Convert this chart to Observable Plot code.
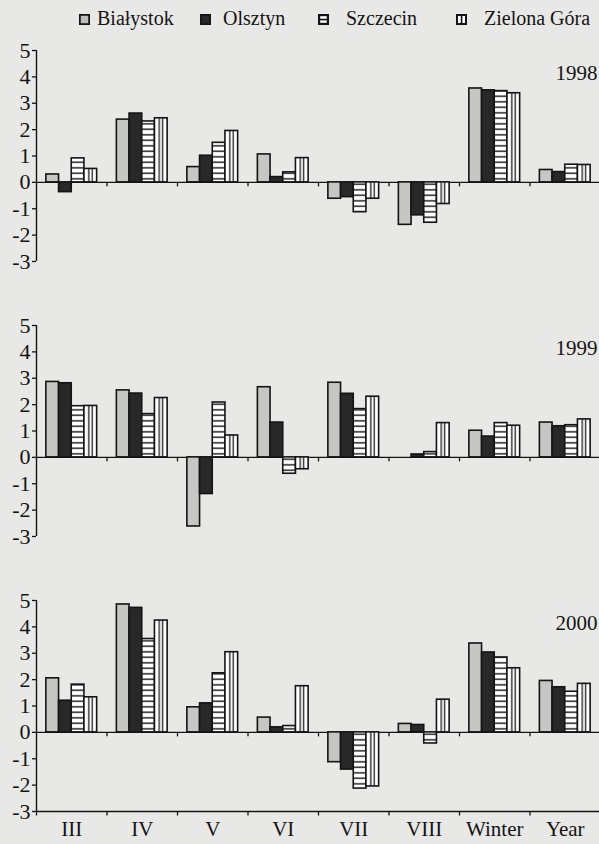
<!DOCTYPE html>
<html>
<head>
<meta charset="utf-8">
<script src="https://cdn.jsdelivr.net/npm/d3@7"></script>
<script src="https://cdn.jsdelivr.net/npm/@observablehq/plot@0.6"></script>
<style>
  body { margin: 0; background: #e8e8e6; }
  #wrap { position: relative; width: 599px; height: 844px; font-family: "Liberation Serif", "Times New Roman", serif; color: #141414; }
  #chart { position: absolute; left: 0; top: 0; }
  .item { position: absolute; top: 6px; font-size: 20px; line-height: 24px; white-space: nowrap; }
  .sw { position: absolute; top: 14px; width: 11px; height: 11px; }
</style>
</head>
<body>
<div id="wrap">
  <div id="chart"></div>
  <div id="legend"></div>
</div>
<script>
// ---- data (anomalies) ----
const categories = ["III", "IV", "V", "VI", "VII", "VIII", "Winter", "Year"];
const cities = ["Białystok", "Olsztyn", "Szczecin", "Zielona Góra"];
const years = [1998, 1999, 2000];
const yTicks = [-3, -2, -1, 0, 1, 2, 3, 4, 5];

const bialystok1998 = [0.30, 2.38, 0.58, 1.06, -0.62, -1.61, 3.56, 0.47];
const olsztyn1998   = [-0.37, 2.61, 1.01, 0.20, -0.56, -1.25, 3.49, 0.39];
const szczecin1998  = [0.91, 2.31, 1.50, 0.38, -1.13, -1.53, 3.46, 0.67];
const zielona1998   = [0.51, 2.43, 1.95, 0.92, -0.62, -0.82, 3.38, 0.66];

const bialystok1999 = [2.86, 2.54, -2.62, 2.66, 2.83, 0.00, 1.01, 1.32];
const olsztyn1999   = [2.81, 2.42, -1.39, 1.32, 2.41, 0.11, 0.79, 1.18];
const szczecin1999  = [1.94, 1.64, 2.08, -0.62, 1.83, 0.20, 1.30, 1.22];
const zielona1999   = [1.95, 2.25, 0.83, -0.45, 2.30, 1.30, 1.20, 1.44];

const bialystok2000 = [2.05, 4.85, 0.95, 0.56, -1.13, 0.32, 3.37, 1.95];
const olsztyn2000   = [1.20, 4.72, 1.10, 0.19, -1.41, 0.28, 3.03, 1.71];
const szczecin2000  = [1.81, 3.54, 2.24, 0.24, -2.13, -0.42, 2.84, 1.54];
const zielona2000   = [1.33, 4.24, 3.04, 1.75, -2.05, 1.24, 2.43, 1.84];

const series = {
  1998: [bialystok1998, olsztyn1998, szczecin1998, zielona1998],
  1999: [bialystok1999, olsztyn1999, szczecin1999, zielona1999],
  2000: [bialystok2000, olsztyn2000, szczecin2000, zielona2000]
};

// ---- table ----
const rows = [];
for (const year of years) {
  series[year].forEach((vals, ci) => {
    vals.forEach((v, k) => rows.push({year, city: cities[ci], ci, cat: categories[k], k, value: v}));
  });
}

// group layout inside each category band (fractions of one band)
const groupPad = 0.14, barW = 0.18;
const bounds = d3.range(1, categories.length + 1);
const bottomBounds = d3.range(0, categories.length + 1).map(b => ({year: 2000, b}));

const fills = ["#c6c6c4", "#282828", "url(#hatchH)", "url(#hatchV)"];
const ink = "#141414";
const serif = "Liberation Serif, Times New Roman, serif";

const plot = Plot.plot({
  width: 599,
  height: 844,
  marginLeft: 36,
  marginRight: 0,
  marginTop: 50,
  marginBottom: 33,
  style: { background: "transparent", fontFamily: serif, color: ink },
  x: { domain: [0, categories.length], range: [36, 600] },
  y: { domain: [-3, 5] },
  fy: { domain: years, paddingInner: 0.233, paddingOuter: 0, axis: null },
  color: { domain: cities, range: fills },
  marks: [
    Plot.ruleY([0], { stroke: ink, strokeWidth: 1.3 }),
    Plot.ruleX([0], { y1: -3, y2: 5, stroke: ink, strokeWidth: 1.4 }),
    Plot.ruleX(bounds, { x: d => d, y1: 0, y2: -0.17, stroke: ink, strokeWidth: 1.3 }),
    Plot.ruleY([{year: 2000}], { y: -3, fy: "year", stroke: ink, strokeWidth: 1.3 }),
    Plot.ruleX(bottomBounds, { x: "b", y1: -3, y2: -3.17, fy: "year", stroke: ink, strokeWidth: 1.3 }),
    Plot.rectY(rows, {
      x1: d => d.k + groupPad + d.ci * barW,
      x2: d => d.k + groupPad + (d.ci + 1) * barW,
      y: "value",
      fy: "year",
      fill: "city",
      stroke: ink,
      strokeWidth: 1.6
    }),
    Plot.axisY({ ticks: yTicks, tickFormat: d => String(d), tickSize: 4, tickPadding: 2, fontSize: 22, label: null, stroke: ink, strokeWidth: 1.3, fill: ink }),
    Plot.axisX({
      ticks: categories.map((c, i) => i + 0.5),
      tickFormat: t => categories[Math.floor(t)],
      tickSize: 0, tickPadding: 10, fontSize: 21, label: null, fill: ink
    }),
    Plot.text(years, { fy: d => d, text: d => String(d), frameAnchor: "top-right", textAnchor: "end", dx: -2, dy: 15, fontSize: 21, fill: ink })
  ]
});

// patterns for the hatched series
const defs = d3.select(plot).insert("defs", ":first-child");
const ph = defs.append("pattern").attr("id", "hatchH").attr("patternUnits", "userSpaceOnUse")
  .attr("width", 6).attr("height", 5.5);
ph.append("rect").attr("width", 6).attr("height", 5.5).attr("fill", "#ffffff");
ph.append("rect").attr("y", 2.1).attr("width", 6).attr("height", 1.4).attr("fill", ink);
const pv = defs.append("pattern").attr("id", "hatchV").attr("patternUnits", "objectBoundingBox")
  .attr("patternContentUnits", "objectBoundingBox").attr("width", 1).attr("height", 1);
pv.append("rect").attr("width", 1).attr("height", 1).attr("fill", "#ffffff");
pv.append("rect").attr("x", 0.33).attr("width", 0.1).attr("height", 1).attr("fill", ink);
pv.append("rect").attr("x", 0.60).attr("width", 0.1).attr("height", 1).attr("fill", ink);

document.getElementById("chart").appendChild(plot);

// legend
const legendPos = [[79, 97], [200, 223], [318, 346], [456, 484]];
const swatch = [
  `<svg class="sw" viewBox="0 0 10 10"><rect x="0.8" y="0.8" width="8.4" height="8.4" fill="#bdbdbb" stroke="${ink}" stroke-width="1.6"/></svg>`,
  `<svg class="sw" viewBox="0 0 10 10"><rect x="0.8" y="0.8" width="8.4" height="8.4" fill="#282828" stroke="${ink}" stroke-width="1.6"/></svg>`,
  `<svg class="sw" viewBox="0 0 10 10"><rect x="1" y="1" width="8" height="8" fill="#fff" stroke="${ink}" stroke-width="2"/><rect x="1" y="4.3" width="8" height="1.5" fill="${ink}"/></svg>`,
  `<svg class="sw" viewBox="0 0 10 10"><rect x="0.9" y="0.9" width="8.2" height="8.2" fill="#fff" stroke="${ink}" stroke-width="1.8"/><rect x="4.3" y="1" width="1.5" height="8" fill="${ink}"/></svg>`
];
const legend = document.getElementById("legend");
cities.forEach((c, i) => {
  const [sx, tx] = legendPos[i];
  legend.insertAdjacentHTML("beforeend",
    swatch[i].replace('class="sw"', `class="sw" style="left:${sx}px"`) +
    `<div class="item" style="left:${tx}px">${c}</div>`);
});
</script>
</body>
</html>
